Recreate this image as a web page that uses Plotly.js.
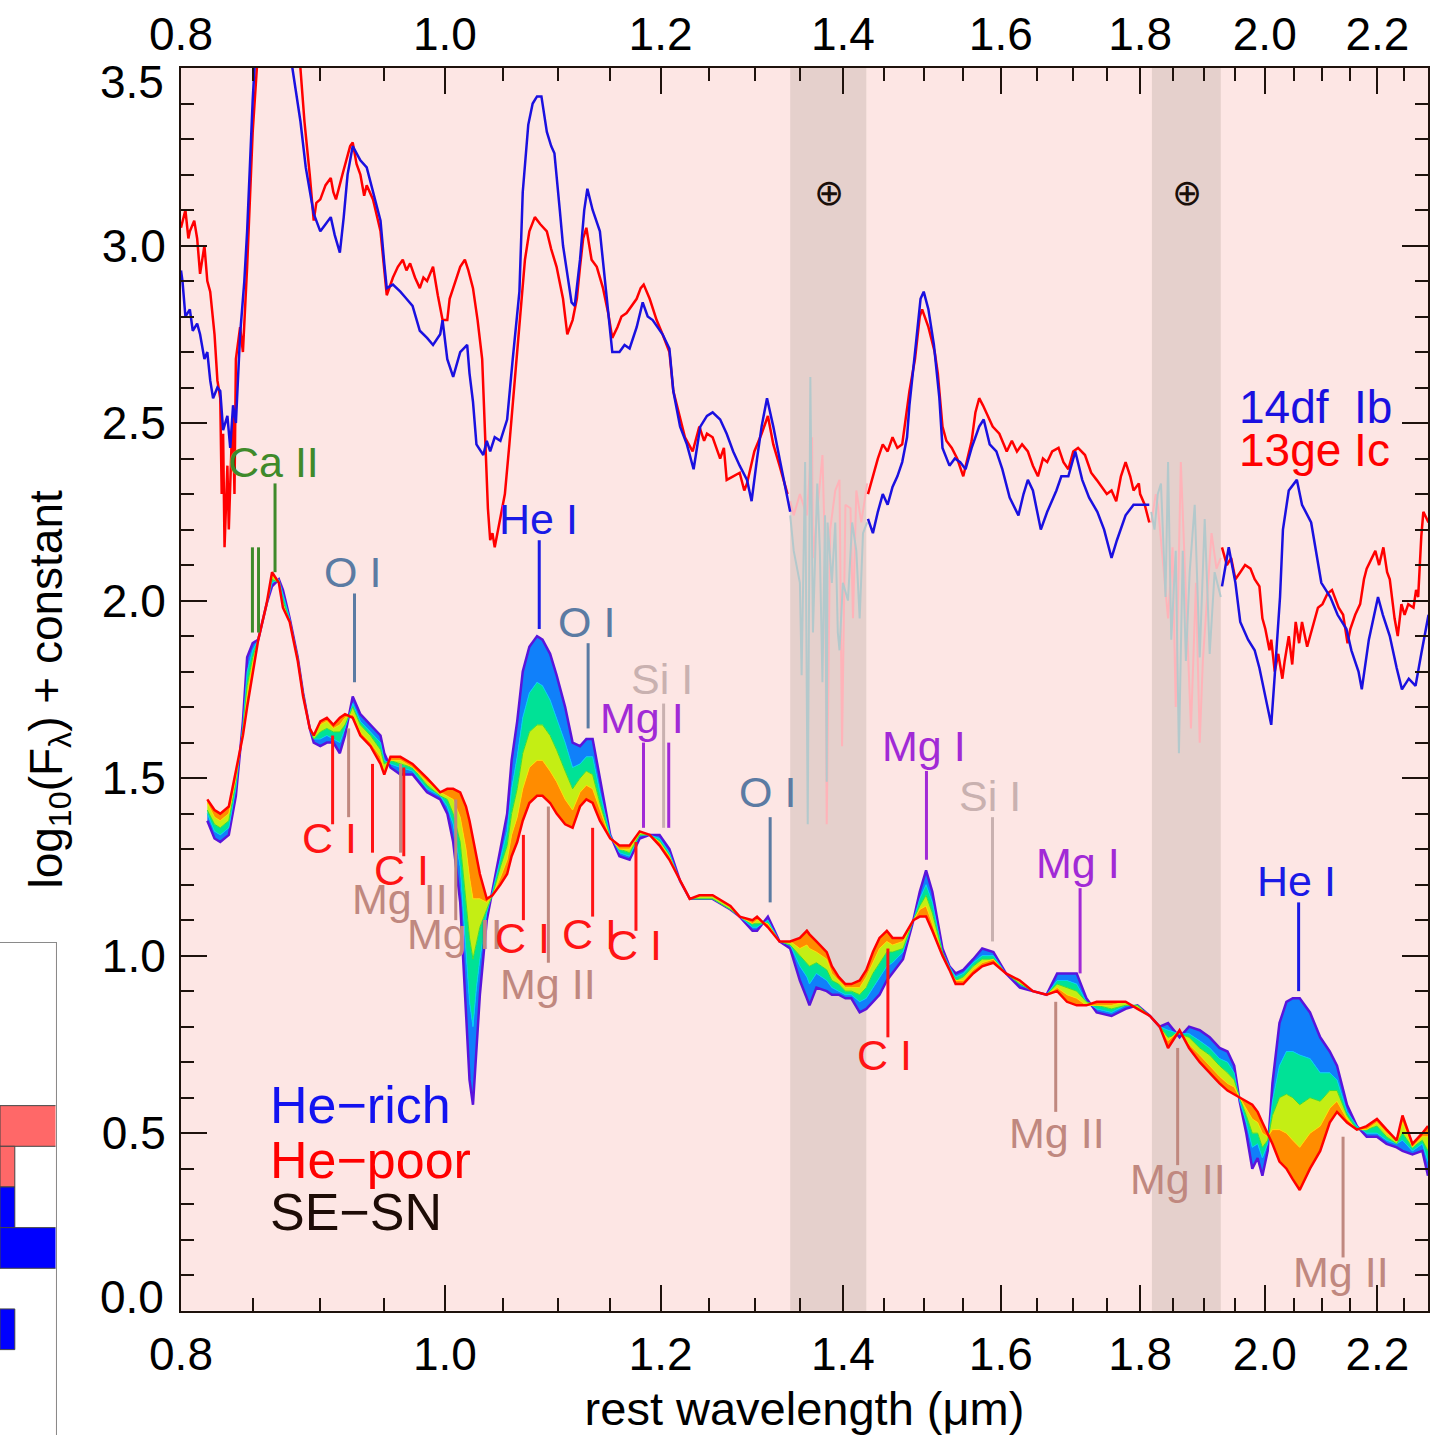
<!DOCTYPE html>
<html><head><meta charset="utf-8">
<script src="https://cdn.plot.ly/plotly-3.0.1.min.js"></script>
<style>html,body{margin:0;padding:0;background:#fff;}#chart{width:1449px;height:1435px;}</style>
</head><body><div id="chart"></div>
<script>
// ---------------- DATA ----------------
// SN 2014df (Ib) observed spectrum
const sn14dfWl = [
0.800,0.801,0.803,0.806,0.808,0.811,0.813,0.816,0.818,0.820,
0.822,0.825,0.827,0.829,0.832,0.834,0.836,0.838,0.841,0.844,
0.846,0.848,0.850,0.852,0.858,0.873,0.879,0.885,0.889,0.895,
0.900,0.904,0.908,0.911,0.915,0.918,0.921,0.925,0.931,0.936,
0.941,0.947,0.950,0.952,0.957,0.963,0.968,0.973,0.979,0.985,
0.990,0.996,0.998,1.002,1.007,1.013,1.019,1.021,1.024,1.027,
1.033,1.036,1.039,1.043,1.048,1.054,1.059,1.065,1.068,1.073,
1.077,1.081,1.085,1.090,1.094,1.097,1.102,1.105,1.108,1.113,
1.116,1.121,1.125,1.128,1.133,1.140,1.146,1.152,1.159,1.164,
1.169,1.176,1.182,1.187,1.192,1.197,1.202,1.209,1.213,1.220,
1.227,1.234,1.238,1.241,1.248,1.254,1.262,1.269,1.276,1.283,
1.291,1.296,1.302,1.307,1.313,1.320,1.327,1.335,1.339,1.380,
1.430,1.436,1.442,1.448,1.454,1.460,1.466,1.472,1.478,1.481,
1.489,1.495,1.499,1.505,1.512,1.519,1.523,1.532,1.539,1.546,
1.553,1.561,1.571,1.577,1.585,1.594,1.602,1.612,1.624,1.631,
1.637,1.644,1.655,1.664,1.677,1.684,1.694,1.704,1.714,1.724,
1.736,1.746,1.757,1.765,1.778,1.790,1.800,1.814,1.870,1.929,
1.940,1.951,1.959,1.972,1.983,1.991,2.001,2.008,2.011,2.017,
2.026,2.031,2.041,2.055,2.064,2.080,2.089,2.098,2.114,2.127,
2.143,2.152,2.165,2.171,2.184,2.201,2.210,2.223,2.236,2.246,
2.259,2.272,2.283,2.297];
const sn14dfFlux = [
2.93,2.90,2.80,2.82,2.76,2.78,2.75,2.68,2.70,2.62,
2.57,2.60,2.59,2.48,2.52,2.43,2.55,2.50,2.75,2.90,
3.04,3.25,3.41,3.55,3.85,3.85,3.50,3.35,3.22,3.09,
3.04,3.06,3.08,3.03,2.98,3.08,3.20,3.28,3.24,3.22,
3.15,3.07,2.95,2.88,2.89,2.87,2.85,2.83,2.76,2.74,
2.72,2.75,2.79,2.68,2.63,2.70,2.72,2.64,2.56,2.44,
2.41,2.45,2.42,2.46,2.45,2.51,2.68,2.87,3.15,3.34,
3.40,3.42,3.42,3.32,3.28,3.26,3.10,3.00,2.94,2.84,
2.83,2.96,3.10,3.16,3.10,3.04,2.87,2.70,2.70,2.72,
2.71,2.77,2.84,2.80,2.79,2.77,2.75,2.71,2.59,2.49,
2.44,2.37,2.44,2.49,2.52,2.53,2.51,2.47,2.42,2.38,
2.34,2.28,2.40,2.49,2.57,2.49,2.40,2.30,2.25,null,
2.23,2.19,2.25,2.30,2.27,2.32,2.35,2.39,2.46,2.55,
2.72,2.85,2.87,2.82,2.72,2.57,2.43,2.38,2.40,2.39,
2.37,2.43,2.49,2.51,2.44,2.42,2.37,2.29,2.24,2.30,
2.34,2.31,2.20,2.25,2.31,2.35,2.35,2.42,2.34,2.29,
2.25,2.20,2.12,2.17,2.24,2.27,2.27,2.27,null,2.04,
2.15,2.05,1.94,1.89,1.86,1.81,1.73,1.68,1.65,1.79,
2.01,2.20,2.31,2.34,2.27,2.22,2.14,2.05,2.01,1.96,
1.92,1.86,1.80,1.75,1.89,2.01,1.96,1.90,1.81,1.75,
1.78,1.76,1.85,1.96];

// SN 2013ge (Ic) observed spectrum
const sn13geWl = [
0.800,0.803,0.805,0.806,0.809,0.811,0.813,0.816,0.818,0.820,
0.823,0.825,0.827,0.828,0.829,0.830,0.832,0.833,0.835,0.836,
0.837,0.838,0.841,0.843,0.846,0.848,0.850,0.853,0.857,0.877,
0.885,0.888,0.892,0.895,0.897,0.900,0.904,0.908,0.910,0.912,
0.917,0.923,0.925,0.928,0.931,0.934,0.936,0.941,0.947,0.951,
0.952,0.957,0.961,0.965,0.968,0.971,0.975,0.979,0.982,0.985,
0.990,0.994,0.998,1.002,1.004,1.007,1.013,1.017,1.020,1.024,
1.028,1.032,1.034,1.037,1.039,1.041,1.043,1.048,1.052,1.056,
1.061,1.065,1.070,1.074,1.079,1.084,1.090,1.094,1.099,1.105,
1.109,1.114,1.118,1.121,1.124,1.127,1.130,1.132,1.137,1.143,
1.148,1.152,1.157,1.161,1.166,1.171,1.176,1.180,1.183,1.189,
1.196,1.202,1.209,1.213,1.220,1.225,1.233,1.240,1.245,1.248,
1.254,1.262,1.266,1.269,1.276,1.283,1.288,1.291,1.299,1.307,
1.314,1.320,1.327,1.336,1.380,1.430,1.436,1.442,1.448,1.454,
1.460,1.466,1.472,1.478,1.481,1.488,1.494,1.497,1.505,1.513,
1.517,1.523,1.528,1.535,1.542,1.550,1.555,1.561,1.566,1.571,
1.576,1.580,1.589,1.598,1.608,1.615,1.622,1.629,1.637,1.644,
1.651,1.658,1.664,1.671,1.680,1.687,1.694,1.701,1.708,1.718,
1.727,1.735,1.742,1.750,1.757,1.764,1.771,1.778,1.785,1.790,
1.798,1.800,1.807,1.814,1.870,1.929,1.937,1.944,1.951,1.959,
1.967,1.976,1.983,1.991,1.996,2.001,2.008,2.011,2.017,2.023,
2.030,2.034,2.041,2.047,2.053,2.059,2.064,2.073,2.083,2.092,
2.100,2.109,2.117,2.129,2.137,2.145,2.150,2.159,2.168,2.175,
2.180,2.189,2.196,2.203,2.211,2.218,2.223,2.232,2.238,2.245,
2.251,2.258,2.268,2.273,2.277,2.283,2.287,2.297];
const sn13geFlux = [
3.05,3.10,3.02,3.04,3.07,3.02,2.92,3.00,2.90,2.87,
2.75,2.62,2.57,2.30,2.47,2.15,2.38,2.20,2.45,2.52,
2.30,2.68,2.77,2.70,2.94,3.13,3.32,3.50,3.80,3.90,
3.50,3.35,3.20,3.07,3.12,3.13,3.17,3.19,3.15,3.13,
3.20,3.28,3.29,3.23,3.20,3.14,3.17,3.13,3.04,2.90,
2.86,2.91,2.94,2.96,2.93,2.95,2.91,2.88,2.91,2.90,
2.94,2.86,2.79,2.79,2.85,2.88,2.94,2.96,2.93,2.88,
2.79,2.68,2.49,2.26,2.17,2.19,2.15,2.23,2.30,2.44,
2.63,2.79,2.96,3.04,3.08,3.06,3.04,2.99,2.94,2.85,
2.75,2.79,2.85,2.94,3.02,3.05,2.99,2.96,2.94,2.88,
2.81,2.74,2.77,2.80,2.81,2.83,2.85,2.88,2.89,2.85,
2.79,2.75,2.70,2.59,2.51,2.46,2.42,2.49,2.45,2.47,
2.46,2.40,2.43,2.34,2.35,2.36,2.31,2.33,2.42,2.47,
2.52,2.44,2.38,2.30,null,2.30,2.35,2.40,2.44,2.42,
2.46,2.43,2.44,2.55,2.59,2.68,2.80,2.82,2.77,2.70,
2.64,2.49,2.45,2.43,2.40,2.35,2.40,2.45,2.53,2.57,
2.55,2.53,2.49,2.47,2.42,2.45,2.42,2.44,2.42,2.38,
2.35,2.40,2.39,2.42,2.43,2.39,2.37,2.42,2.43,2.41,
2.36,2.34,2.32,2.30,2.31,2.28,2.35,2.39,2.35,2.31,
2.33,2.30,2.27,2.22,null,2.15,2.10,2.12,2.06,2.08,
2.10,2.09,2.06,2.04,1.95,1.92,1.86,1.89,1.80,1.85,
1.78,1.83,1.90,1.82,1.94,1.88,1.94,1.87,1.93,1.98,
1.99,2.02,2.03,1.98,1.96,1.88,1.92,1.96,1.99,2.06,
2.09,2.12,2.14,2.10,2.15,2.08,2.06,1.95,1.90,1.99,
1.96,1.99,1.98,2.03,2.01,2.18,2.25,2.22];

// telluric-affected portions (drawn faint)
const tell14dfWlA = [1.339,1.343,1.350,1.352,1.356,1.359,1.362,1.364,1.365,1.370,1.373,1.376,1.379,1.381,1.382,1.387,1.391,1.394,1.396,1.400,1.406,1.411,1.416,1.420,1.424,1.429];
const tell14dfFluxA = [2.24,2.14,2.05,1.79,2.39,1.37,2.63,2.05,1.91,2.33,2.14,1.77,2.24,1.49,2.22,2.05,2.22,1.91,1.86,2.05,2.00,2.22,2.14,1.95,2.19,2.22];
const tell13geWlA = [1.339,1.343,1.350,1.358,1.364,1.365,1.376,1.379,1.381,1.385,1.391,1.396,1.399,1.403,1.409,1.412,1.416,1.422,1.429];
const tell13geFluxA = [2.28,2.24,2.30,2.24,2.46,2.12,2.41,2.14,1.37,2.20,2.31,2.34,1.59,2.27,2.26,1.95,2.31,2.22,2.33];
const tell14dfWlB = [1.817,1.822,1.827,1.832,1.839,1.843,1.848,1.855,1.860,1.866,1.871,1.877,1.885,1.893,1.901,1.909,1.917,1.927];
const tell14dfFluxB = [2.25,2.20,2.30,2.33,2.01,2.39,1.89,2.14,1.57,2.14,1.83,2.08,2.27,1.84,2.23,1.85,2.08,2.01];
const tell13geWlB = [1.817,1.824,1.827,1.835,1.843,1.850,1.855,1.863,1.871,1.879,1.887,1.893,1.898,1.906,1.912,1.920,1.927];
const tell13geFluxB = [2.22,2.30,2.27,2.10,1.95,2.15,1.70,2.39,2.01,1.64,2.05,1.60,1.83,2.05,2.19,2.09,2.12];

// model spectra sequence, He-rich -> He-poor
const modelWl = [
0.818,0.823,0.827,0.833,0.838,0.843,0.846,0.850,0.854,0.860,
0.864,0.869,0.872,0.877,0.883,0.887,0.892,0.895,0.900,0.905,
0.910,0.915,0.919,0.925,0.931,0.939,0.947,0.950,0.955,0.963,
0.973,0.985,0.996,1.002,1.007,1.013,1.018,1.021,1.024,1.027,
1.030,1.036,1.041,1.048,1.054,1.058,1.063,1.068,1.074,1.081,
1.086,1.093,1.099,1.107,1.114,1.121,1.127,1.133,1.140,1.150,
1.159,1.169,1.179,1.189,1.199,1.209,1.220,1.230,1.240,1.254,
1.273,1.283,1.297,1.302,1.314,1.327,1.339,1.350,1.358,1.361,
1.369,1.381,1.387,1.395,1.403,1.410,1.420,1.428,1.436,1.444,
1.453,1.460,1.473,1.486,1.494,1.502,1.510,1.523,1.532,1.540,
1.550,1.563,1.575,1.590,1.607,1.626,1.644,1.663,1.678,1.692,
1.706,1.720,1.735,1.757,1.778,1.796,1.815,1.830,1.843,1.861,
1.876,1.893,1.909,1.925,1.938,1.949,1.958,1.969,1.979,1.988,
1.996,2.005,2.013,2.025,2.037,2.048,2.060,2.078,2.096,2.113,
2.126,2.144,2.162,2.180,2.199,2.217,2.236,2.247,2.266,2.285,
2.296];
const modelHeRich = [
1.38,1.33,1.32,1.34,1.45,1.66,1.84,1.88,1.89,1.99,
2.04,2.06,2.03,1.95,1.84,1.74,1.64,1.60,1.59,1.60,
1.60,1.57,1.62,1.73,1.68,1.65,1.62,1.57,1.53,1.51,
1.51,1.46,1.44,1.40,1.32,1.15,0.85,0.65,0.58,0.75,
0.89,1.10,1.18,1.30,1.40,1.55,1.66,1.80,1.87,1.90,
1.89,1.85,1.79,1.70,1.60,1.59,1.61,1.61,1.50,1.34,
1.28,1.27,1.33,1.34,1.34,1.30,1.21,1.16,1.16,1.16,
1.13,1.11,1.07,1.07,1.11,1.04,1.02,0.93,0.88,0.86,
0.91,0.90,0.89,0.89,0.88,0.88,0.84,0.85,0.87,0.89,
0.93,0.95,0.99,1.10,1.18,1.24,1.18,1.02,0.97,0.95,
0.96,0.99,1.02,1.01,0.95,0.91,0.90,0.89,0.95,0.95,
0.95,0.88,0.84,0.83,0.85,0.86,0.83,0.80,0.81,0.77,
0.80,0.79,0.77,0.74,0.73,0.69,0.59,0.50,0.40,0.43,
0.38,0.45,0.64,0.81,0.87,0.88,0.88,0.84,0.77,0.73,
0.69,0.58,0.52,0.49,0.49,0.47,0.46,0.45,0.44,0.45,
0.38];
const modelMidRich = [
1.40,1.35,1.34,1.36,1.47,1.65,1.80,1.86,1.89,1.99,
2.05,2.06,2.02,1.95,1.84,1.74,1.64,1.61,1.61,1.62,
1.61,1.60,1.64,1.71,1.66,1.63,1.60,1.55,1.54,1.53,
1.52,1.47,1.45,1.42,1.37,1.25,1.02,0.87,0.80,0.91,
0.99,1.12,1.18,1.27,1.35,1.47,1.56,1.67,1.74,1.77,
1.76,1.72,1.67,1.60,1.53,1.54,1.56,1.56,1.46,1.34,
1.29,1.28,1.34,1.34,1.33,1.29,1.21,1.16,1.16,1.16,
1.13,1.11,1.08,1.08,1.10,1.04,1.03,0.97,0.94,0.92,
0.95,0.93,0.91,0.90,0.89,0.89,0.87,0.88,0.91,0.94,
0.97,0.98,1.01,1.10,1.16,1.20,1.15,1.01,0.97,0.94,
0.95,0.98,1.00,1.00,0.95,0.92,0.90,0.89,0.93,0.93,
0.92,0.87,0.85,0.84,0.86,0.86,0.83,0.80,0.79,0.78,
0.78,0.76,0.74,0.71,0.70,0.67,0.59,0.53,0.46,0.47,
0.43,0.47,0.59,0.69,0.73,0.73,0.72,0.71,0.67,0.67,
0.65,0.56,0.52,0.50,0.50,0.48,0.47,0.48,0.45,0.47,
0.42];
const modelMid = [
1.41,1.37,1.36,1.38,1.49,1.64,1.76,1.84,1.89,1.99,
2.06,2.05,2.00,1.94,1.84,1.74,1.64,1.61,1.63,1.64,
1.63,1.63,1.65,1.70,1.65,1.62,1.58,1.54,1.55,1.54,
1.53,1.48,1.45,1.44,1.40,1.32,1.16,1.05,0.99,1.04,
1.08,1.13,1.17,1.25,1.31,1.40,1.47,1.57,1.63,1.65,
1.65,1.62,1.58,1.52,1.47,1.50,1.52,1.51,1.43,1.33,
1.30,1.29,1.34,1.34,1.32,1.28,1.21,1.16,1.16,1.16,
1.13,1.11,1.09,1.09,1.09,1.04,1.03,1.00,0.98,0.97,
0.98,0.96,0.93,0.92,0.90,0.90,0.89,0.91,0.95,0.98,
1.01,1.01,1.02,1.10,1.14,1.17,1.12,1.01,0.96,0.93,
0.94,0.97,0.99,0.99,0.95,0.92,0.90,0.89,0.92,0.91,
0.90,0.87,0.86,0.85,0.86,0.86,0.83,0.80,0.77,0.78,
0.77,0.74,0.72,0.69,0.67,0.65,0.60,0.55,0.50,0.50,
0.46,0.48,0.55,0.60,0.61,0.60,0.58,0.60,0.59,0.62,
0.62,0.55,0.51,0.51,0.52,0.49,0.47,0.50,0.46,0.48,
0.45];
const modelMidPoor = [
1.43,1.39,1.38,1.40,1.50,1.63,1.73,1.82,1.89,1.99,
2.07,2.05,1.99,1.94,1.83,1.73,1.64,1.62,1.65,1.66,
1.64,1.65,1.67,1.68,1.63,1.60,1.56,1.52,1.55,1.55,
1.53,1.49,1.46,1.45,1.44,1.39,1.30,1.22,1.16,1.16,
1.16,1.15,1.17,1.22,1.27,1.34,1.39,1.47,1.53,1.55,
1.55,1.52,1.49,1.44,1.41,1.46,1.48,1.47,1.41,1.33,
1.30,1.30,1.35,1.34,1.32,1.28,1.21,1.16,1.17,1.17,
1.14,1.11,1.09,1.10,1.09,1.04,1.04,1.02,1.03,1.02,
1.01,0.99,0.95,0.93,0.91,0.91,0.91,0.94,0.98,1.02,
1.04,1.03,1.04,1.10,1.13,1.14,1.09,1.00,0.96,0.93,
0.93,0.96,0.98,0.99,0.95,0.93,0.90,0.89,0.91,0.89,
0.88,0.86,0.86,0.86,0.87,0.85,0.83,0.80,0.76,0.79,
0.75,0.72,0.69,0.66,0.64,0.63,0.60,0.57,0.54,0.53,
0.50,0.49,0.51,0.51,0.50,0.48,0.46,0.50,0.52,0.57,
0.59,0.54,0.51,0.51,0.53,0.50,0.48,0.53,0.46,0.49,
0.49];
const modelHePoor = [
1.44,1.41,1.40,1.42,1.52,1.62,1.70,1.80,1.89,1.99,
2.08,2.05,1.98,1.94,1.83,1.73,1.64,1.62,1.66,1.67,
1.65,1.67,1.68,1.67,1.62,1.59,1.54,1.51,1.56,1.56,
1.54,1.50,1.46,1.47,1.47,1.46,1.42,1.38,1.33,1.27,
1.23,1.16,1.17,1.20,1.23,1.28,1.32,1.38,1.43,1.45,
1.45,1.43,1.40,1.37,1.36,1.42,1.44,1.43,1.38,1.33,
1.31,1.31,1.35,1.34,1.31,1.27,1.21,1.16,1.17,1.17,
1.14,1.11,1.10,1.11,1.08,1.04,1.04,1.05,1.07,1.06,
1.04,1.01,0.97,0.94,0.92,0.92,0.93,0.96,1.01,1.05,
1.07,1.05,1.05,1.10,1.11,1.11,1.07,1.00,0.96,0.92,
0.92,0.95,0.97,0.98,0.95,0.93,0.90,0.89,0.90,0.87,
0.86,0.86,0.87,0.87,0.87,0.85,0.83,0.80,0.74,0.79,
0.74,0.70,0.67,0.64,0.62,0.61,0.60,0.59,0.58,0.56,
0.53,0.50,0.47,0.42,0.40,0.37,0.34,0.40,0.45,0.53,
0.56,0.53,0.51,0.52,0.54,0.51,0.48,0.55,0.47,0.50,
0.52];

// line identifications: species, rest wavelength (um), marker bottom / top
const lineSpecies = ['Ca II','Ca II','Ca II','O I','He I','O I','Si I','Mg I','Mg I','C I','C I','C I','C I','C I','C I','Mg II','Mg II','Mg II','Mg II','O I','Mg I','Si I','Mg I','C I','Mg II','Mg II','He I','Mg II'];
const lineWl =      [0.8498,0.8542,0.8662,0.9264,1.0830,1.1287,1.2031,1.1828,1.2083,0.9094,0.9406,0.9658,1.0686,1.1330,1.1753,0.9218,0.9632,1.0092,1.0914,1.3165,1.5025,1.5888,1.7109,1.4543,1.6760,1.8580,2.0581,2.1369];
const lineLo =      [1.91,1.91,2.08,1.77,1.92,1.64,1.36,1.36,1.36,1.37,1.29,1.28,1.10,1.11,1.07,1.39,1.29,1.10,0.98,1.15,1.27,1.04,0.95,0.77,0.56,0.41,0.90,0.15];
const lineHi =      [2.15,2.15,2.33,2.02,2.17,1.88,1.71,1.60,1.60,1.62,1.54,1.53,1.34,1.36,1.32,1.64,1.54,1.44,1.42,1.39,1.52,1.39,1.19,1.02,0.87,0.74,1.15,0.49];
// labels of the identifications
const labelText =    ['Ca II','O I','He I','O I','Si I','Mg I','C I','C I','Mg II','Mg II','C I','Mg II','C I','C I','O I','Mg I','Si I','Mg I','C I','Mg II','Mg II','He I','Mg II'];
const labelSpecies = ['Ca II','O I','He I','O I','Si I','Mg I','C I','C I','Mg II','Mg II','C I','Mg II','C I','C I','O I','Mg I','Si I','Mg I','C I','Mg II','Mg II','He I','Mg II'];
const labelWl =      [0.865,0.925,1.082,1.127,1.201,1.181,0.907,0.964,0.963,1.0085,1.068,1.091,1.130,1.174,1.314,1.500,1.585,1.708,1.450,1.678,1.858,2.055,2.134];
const labelFlux =    [2.39,2.08,2.23,1.94,1.78,1.67,1.33,1.24,1.16,1.06,1.05,0.92,1.06,1.03,1.46,1.59,1.45,1.26,0.72,0.50,0.37,1.21,0.11];

// telluric windows (um)
const telluricStart = [1.339, 1.818];
const telluricEnd   = [1.428, 1.927];
const telluricSymbolWl = [1.384, 1.873];
const telluricSymbolFlux = 3.15;

// axis ticks
const majorTicks = [0.8,1.0,1.2,1.4,1.6,1.8,2.0,2.2];
const majorTickText = ['0.8','1.0','1.2','1.4','1.6','1.8','2.0','2.2'];
const minorTicks = [0.85,0.9,0.95,1.05,1.1,1.15,1.25,1.3,1.35,1.45,1.5,1.55,1.65,1.7,1.75,1.85,1.9,1.95,2.05,2.1,2.15,2.25];
const yTicks = [0, 0.5, 1.0, 1.5, 2.0, 2.5, 3.0, 3.5];
const yTickText = ['0.0', '0.5', '1.0', '1.5', '2.0', '2.5', '3.0', '3.5'];

// neighbouring panel (histogram, partially visible)
const histHePoorBin = [4.5, 5.5];
const histHePoorCount = [4, 1];
const histHeRichBin = [6.5, 7.5, 9.5];
const histHeRichCount = [1, 4, 1];

// ---------------- STYLE ----------------
const speciesColor = {'Ca II':'#3f8a2a','O I':'#5b7ba3','He I':'#1a1ae6','C I':'#ff1414','Mg II':'#c0887f','Mg I':'#a12ad6','Si I':'#c9b1b0'};
const axisColor = '#1e120c';
const FONT = 'Liberation Sans, Arial, Helvetica, sans-serif';
const L = Math.log10;

const traces = [];
// dummy trace to create the top axis
traces.push({x: majorTicks, y: majorTicks.map(() => null), xaxis: 'x2', yaxis: 'y', mode: 'lines', hoverinfo: 'skip', showlegend: false});

// telluric faint spectra
traces.push({x: tell13geWlA, y: tell13geFluxA, mode: 'lines', line: {color: '#ffb3b9', width: 2}, hoverinfo: 'skip'});
traces.push({x: tell13geWlB, y: tell13geFluxB, mode: 'lines', line: {color: '#ffb3b9', width: 2}, hoverinfo: 'skip'});
traces.push({x: tell14dfWlA, y: tell14dfFluxA, mode: 'lines', line: {color: '#b3c9cc', width: 2}, hoverinfo: 'skip'});
traces.push({x: tell14dfWlB, y: tell14dfFluxB, mode: 'lines', line: {color: '#b3c9cc', width: 2}, hoverinfo: 'skip'});

// observed spectra
traces.push({x: sn13geWl, y: sn13geFlux, name: '13ge Ic', mode: 'lines', line: {color: '#ff0000', width: 2.5}, connectgaps: false});
traces.push({x: sn14dfWl, y: sn14dfFlux, name: '14df Ib', mode: 'lines', line: {color: '#1a10e0', width: 2.5}, connectgaps: false});

// model sequence with rainbow bands
const modelSeries = [modelHeRich, modelMidRich, modelMid, modelMidPoor, modelHePoor];
const modelLine = ['#5a14dc', '#00d0f8', '#38e038', '#ffe000', '#ff0000'];
const modelFill = [null, 'rgb(16,128,250)', 'rgb(0,226,150)', 'rgb(196,238,20)', 'rgb(255,140,0)'];
modelSeries.forEach((ys, i) => {
  const t = {x: modelWl, y: ys, mode: 'lines', line: {color: modelLine[i], width: (i === 0 || i === 4) ? 2.5 : 1}, hoverinfo: 'skip'};
  if (i > 0) { t.fill = 'tonexty'; t.fillcolor = modelFill[i]; }
  traces.push(t);
});

// identification tick marks
Object.keys(speciesColor).forEach(sp => {
  const xs = [], ys = [];
  lineSpecies.forEach((s, k) => {
    if (s === sp) { xs.push(lineWl[k], lineWl[k], null); ys.push(lineLo[k], lineHi[k], null); }
  });
  traces.push({x: xs, y: ys, mode: 'lines', line: {color: speciesColor[sp], width: 3}, hoverinfo: 'skip'});
});

// neighbouring histogram panel
traces.push({type: 'bar', orientation: 'h', x: histHePoorCount, y: histHePoorBin, width: 1, xaxis: 'x3', yaxis: 'y3', marker: {color: '#ff6868', line: {color: '#444', width: 1}}, hoverinfo: 'skip'});
traces.push({type: 'bar', orientation: 'h', x: histHeRichCount, y: histHeRichBin, width: 1, xaxis: 'x3', yaxis: 'y3', marker: {color: '#0000ff', line: {color: '#444', width: 1}}, hoverinfo: 'skip'});

// annotations
const annotations = [];
labelText.forEach((t, k) => {
  annotations.push({x: L(labelWl[k]), y: labelFlux[k], xref: 'x', yref: 'y', text: t, showarrow: false,
    font: {family: FONT, size: 43, color: speciesColor[labelSpecies[k]]}, xanchor: 'center', yanchor: 'middle'});
});
telluricSymbolWl.forEach(w => {
  annotations.push({x: L(w), y: telluricSymbolFlux, xref: 'x', yref: 'y', text: '\u2295', showarrow: false,
    font: {family: 'DejaVu Sans', size: 36, color: '#1a0f0a'}, xanchor: 'center', yanchor: 'middle'});
});
annotations.push({x: L(1.953), y: 2.546, xref: 'x', yref: 'y', text: '14df\u00a0\u00a0Ib', showarrow: false, xanchor: 'left', yanchor: 'middle', font: {family: FONT, size: 46, color: '#1a10e0'}});
annotations.push({x: L(1.953), y: 2.425, xref: 'x', yref: 'y', text: '13ge Ic', showarrow: false, xanchor: 'left', yanchor: 'middle', font: {family: FONT, size: 46, color: '#ff0000'}});
annotations.push({x: L(0.861), y: 0.58, xref: 'x', yref: 'y', text: 'He\u2212rich', showarrow: false, xanchor: 'left', yanchor: 'middle', font: {family: FONT, size: 52, color: '#1212f0'}});
annotations.push({x: L(0.861), y: 0.425, xref: 'x', yref: 'y', text: 'He\u2212poor', showarrow: false, xanchor: 'left', yanchor: 'middle', font: {family: FONT, size: 52, color: '#ff0000'}});
annotations.push({x: L(0.861), y: 0.278, xref: 'x', yref: 'y', text: 'SE\u2212SN', showarrow: false, xanchor: 'left', yanchor: 'middle', font: {family: FONT, size: 52, color: '#1e0c06'}});
// end tick labels of the y axis, kept inside the frame as in the reference
annotations.push({x: 166/1449, y: 0.04, xref: 'paper', yref: 'y', text: yTickText[0], showarrow: false, xanchor: 'right', yanchor: 'middle', font: {family: FONT, size: 46, color: '#000'}});
annotations.push({x: 166/1449, y: 3.46, xref: 'paper', yref: 'y', text: yTickText[7], showarrow: false, xanchor: 'right', yanchor: 'middle', font: {family: FONT, size: 46, color: '#000'}});

// shapes
const shapes = [{type: 'rect', xref: 'x3 domain', yref: 'y3 domain', x0: 0, x1: 1, y0: 0, y1: 1, fillcolor: '#ffffff', line: {width: 0}, layer: 'below'}];
telluricStart.forEach((s, k) => {
  shapes.push({type: 'rect', xref: 'x', yref: 'y domain', x0: s, x1: telluricEnd[k], y0: 0, y1: 1, fillcolor: '#e5d0cc', line: {width: 0}, layer: 'below'});
});

const xRange = [L(0.8), L(2.296)];
const xCommon = {
  type: 'log', range: xRange, domain: [181/1449, 1428/1449],
  tickmode: 'array', tickvals: majorTicks, ticktext: majorTickText,
  ticks: 'inside', ticklen: 26, tickwidth: 2, tickcolor: axisColor,
  showline: true, linecolor: axisColor, linewidth: 2,
  showgrid: false, zeroline: false,
  tickfont: {family: FONT, size: 46, color: '#000'},
  minor: {tickmode: 'array', tickvals: minorTicks, ticks: 'inside', ticklen: 13, tickwidth: 2, tickcolor: axisColor, showgrid: false}
};

const layout = {
  width: 1449, height: 1435,
  margin: {l: 0, r: 0, t: 0, b: 0, pad: 0},
  paper_bgcolor: '#ffffff', plot_bgcolor: '#fde6e4',
  showlegend: false,
  font: {family: FONT, color: '#000', size: 46},
  xaxis: Object.assign({}, xCommon, {anchor: 'y', side: 'bottom', ticklabelstandoff: 2,
    title: {text: 'rest wavelength (\u03bcm)', font: {family: FONT, size: 47, color: '#000'}, standoff: 14}}),
  xaxis2: Object.assign({}, xCommon, {anchor: 'y', side: 'top', overlaying: 'x', ticklabelstandoff: -2}),
  yaxis: {
    domain: [(1435-1310.7)/1435, (1435-68)/1435], range: [0, 3.5], anchor: 'x',
    tickmode: 'array', tickvals: yTicks, ticktext: yTickText.map((t, i) => (i === 0 || i === yTickText.length - 1) ? ' ' : t),
    ticks: 'inside', ticklen: 26, tickwidth: 2, tickcolor: axisColor,
    showline: true, linecolor: axisColor, linewidth: 2, mirror: 'ticks',
    showgrid: false, zeroline: false, ticklabelstandoff: 4,
    tickfont: {family: FONT, size: 46, color: '#000'},
    minor: {dtick: 0.1, tick0: 0, ticks: 'inside', ticklen: 13, tickwidth: 2, tickcolor: axisColor, showgrid: false},
    title: {text: 'log<sub>10</sub>(F<sub>\u03bb</sub>) + constant', font: {family: FONT, size: 46, color: '#000'}, standoff: 25}
  },
  xaxis3: {domain: [0, 55.5/1449], range: [0, 3.75], anchor: 'y3', side: 'top', showline: true, linecolor: '#8a8a8a', linewidth: 1.5,
    showticklabels: false, ticks: '', showgrid: false, zeroline: false},
  yaxis3: {domain: [0, (1435-943)/1435], range: [12.1, 0], anchor: 'x3', side: 'right', showline: true, linecolor: '#8a8a8a', linewidth: 1.5,
    showticklabels: false, ticks: '', showgrid: false, zeroline: false},
  bargap: 0,
  annotations: annotations,
  shapes: shapes
};

Plotly.newPlot('chart', traces, layout, {displayModeBar: false, staticPlot: true});
</script></body></html>
